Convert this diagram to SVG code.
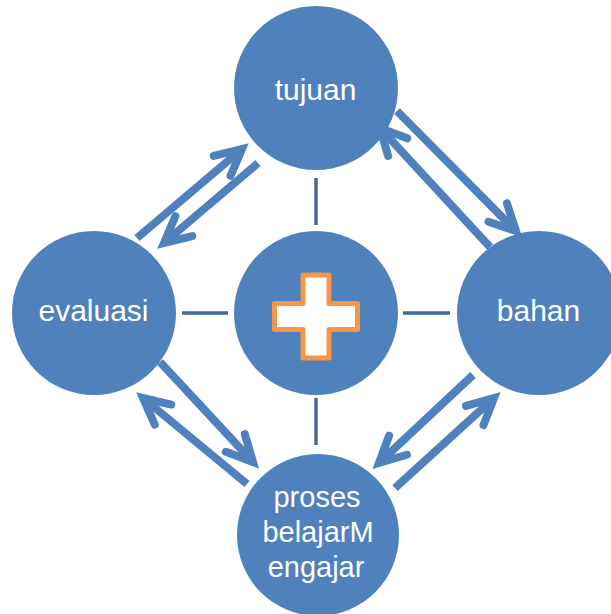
<svg xmlns="http://www.w3.org/2000/svg" width="611" height="614" viewBox="0 0 611 614">
<defs>
<style>
.node{fill:#4F81BD;}
.lbl{font-family:"Liberation Sans",Arial,sans-serif;font-size:30px;fill:#FFFFFF;text-anchor:middle;}
.sm{font-size:29px;}
.arr{fill:none;stroke:#4F81BD;stroke-width:8;marker-end:url(#head);}
.link{stroke:#41699D;stroke-width:3.5;fill:none;}
</style>
<marker id="head" markerUnits="userSpaceOnUse" orient="auto" refX="0" refY="0" markerWidth="60" markerHeight="60" viewBox="-40 -30 60 60" style="overflow:visible">
<path d="M-26,-13 L0,0 L-26,13" fill="none" stroke="#4F81BD" stroke-width="8" stroke-linecap="round" stroke-linejoin="miter"/>
</marker>
</defs>
<rect width="611" height="614" fill="#FFFFFF"/>
<g id="connectors">
<line class="link" x1="316" y1="178" x2="316" y2="225"/>
<line class="link" x1="182" y1="313" x2="228" y2="313"/>
<line class="link" x1="403" y1="313" x2="450" y2="313"/>
<line class="link" x1="316" y1="398" x2="316" y2="445"/>
<line class="arr" x1="137" y1="238" x2="242" y2="149"/>
<line class="arr" x1="258" y1="163" x2="164" y2="243"/>
<line class="arr" x1="397" y1="111" x2="516" y2="231"/>
<line class="arr" x1="490" y1="247" x2="380" y2="128"/>
<line class="arr" x1="160" y1="362" x2="253" y2="462"/>
<line class="arr" x1="247" y1="484" x2="143" y2="398"/>
<line class="arr" x1="473" y1="375" x2="379" y2="463"/>
<line class="arr" x1="395" y1="488" x2="494" y2="398"/>
</g>
<g id="center">
<circle class="node" cx="316" cy="313" r="82"/>
<path d="M303,275 H329 V303.5 H357.5 V329.5 H329 V358 H303 V329.5 H274.5 V303.5 H303 Z" fill="#FFFFFF" stroke="#F79646" stroke-width="5" stroke-linejoin="round"/>
</g>
<g id="tujuan">
<circle class="node" cx="316" cy="88" r="82"/>
<text class="lbl" x="315.5" y="100">tujuan</text>
</g>
<g id="evaluasi">
<circle class="node" cx="94" cy="313" r="82"/>
<text class="lbl" x="93.5" y="321">evaluasi</text>
</g>
<g id="bahan">
<circle class="node" cx="539" cy="313" r="82"/>
<text class="lbl" x="538.5" y="321">bahan</text>
</g>
<g id="proses">
<circle class="node" cx="318" cy="535" r="81"/>
<text class="lbl sm" x="317" y="507">proses</text>
<text class="lbl sm" x="318" y="542">belajarM</text>
<text class="lbl sm" x="316" y="577">engajar</text>
</g>
</svg>
